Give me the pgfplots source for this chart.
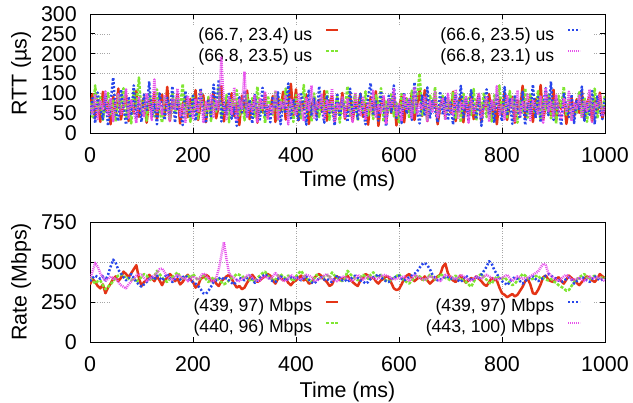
\documentclass[border=0pt]{standalone}
\usepackage{pgfplots}
\pgfplotsset{compat=1.18}
\usepackage{pgfplotstable}
\usepackage{fontspec}
\setmainfont{Liberation Sans}

\definecolor{cR}{RGB}{228,52,22}
\definecolor{cG}{RGB}{128,230,50}
\definecolor{cB}{RGB}{40,70,235}
\definecolor{cM}{RGB}{230,80,235}

\pgfplotstableread{
x r g b m
0 62 78 45 70
5 98 40 88 50
10 38 120 25 95
15 84 55 102 35
20 28 90 60 82
25 104 33 35 60
30 55 72 95 105
35 76 101 18 42
40 22 47 78 88
45 92 85 140 30
50 46 29 52 76
55 112 95 30 98
60 34 60 110 45
65 70 113 66 66
70 96 37 21 110
75 30 81 92 38
80 82 24 44 84
85 50 104 120 57
90 106 66 36 25
95 41 140 82 92
100 66 50 28 62
105 90 88 97 40
110 26 31 58 100
115 86 97 130 72
120 57 70 40 33
125 101 42 75 135
130 36 110 22 55
135 74 58 100 80
140 97 26 63 47
145 44 93 33 96
150 116 76 89 68
155 31 35 47 30
160 80 102 118 88
165 61 49 26 58
170 99 87 80 112
175 24 62 55 43
180 71 124 20 75
185 91 39 106 25
190 40 80 69 94
195 86 28 38 64
200 54 98 94 37
205 108 57 31 86
210 33 36 74 52
215 78 106 113 104
220 95 73 50 28
225 27 45 25 78
230 88 91 86 60
235 48 30 42 98
240 103 84 122 41
245 37 54 60 82
250 69 115 135 56
255 118 41 29 190
260 29 69 77 70
265 83 96 48 35
270 58 27 99 92
275 100 83 36 48
280 42 61 66 115
285 77 108 18 30
290 20 44 90 84
295 94 77 52 62
300 49 32 107 155
305 107 99 39 40
310 35 64 83 76
315 73 88 24 54
320 92 38 96 96
325 26 117 57 26
330 85 52 34 88
335 52 79 114 60
340 98 25 45 105
345 39 94 71 36
350 64 71 27 72
355 93 46 92 50
360 28 103 61 108
365 89 34 103 32
370 56 86 22 80
375 104 59 79 63
380 34 112 49 95
385 72 43 125 22
390 124 75 37 86
395 45 28 85 58
400 110 96 56 44
405 32 63 30 100
410 79 37 98 66
415 60 121 68 30
420 97 50 21 90
425 23 82 110 55
430 68 29 43 120
435 89 100 87 38
440 42 67 33 78
445 84 40 118 61
450 53 89 62 97
455 106 55 26 34
460 31 109 95 83
465 76 33 51 52
470 94 78 76 112
475 28 47 19 27
480 87 92 101 74
485 47 26 41 60
490 101 85 84 93
495 36 60 58 40
500 67 118 28 85
505 96 39 112 58
510 30 74 47 28
515 81 97 73 102
520 59 31 35 66
525 99 87 99 45
530 41 53 59 92
535 75 105 22 33
540 21 44 91 79
545 91 80 126 57
550 48 35 44 106
555 105 95 80 38
560 18 66 31 70
565 71 113 106 51
570 90 28 65 95
575 25 83 17 24
580 84 58 94 87
585 51 101 53 62
590 97 42 120 110
595 19 76 38 42
600 63 24 70 76
605 92 98 25 30
610 27 63 102 98
615 87 86 49 57
620 55 37 88 84
625 103 107 33 36
630 33 51 128 116
635 70 90 57 48
640 111 150 24 72
645 43 45 97 60
650 108 80 43 93
655 30 30 115 28
660 78 97 36 80
665 62 60 81 54
670 95 116 60 104
675 22 41 27 40
680 67 73 105 68
685 88 94 46 88
690 40 33 90 33
695 82 87 32 99
700 52 56 77 58
705 104 104 21 46
710 30 38 98 110
715 74 79 54 35
720 93 27 119 77
725 27 99 39 62
730 86 65 85 94
735 46 88 29 26
740 100 45 108 85
745 35 111 63 50
750 68 32 35 70
755 97 84 93 102
760 29 59 18 38
765 80 102 74 64
770 58 40 110 90
775 98 76 48 28
780 40 29 82 82
785 76 95 26 56
790 22 68 100 118
795 89 120 57 44
800 47 48 30 73
805 102 86 116 35
810 33 35 44 96
815 72 106 87 60
820 91 62 23 86
825 26 90 96 30
830 83 26 61 108
835 53 81 36 45
840 119 54 104 78
845 38 113 20 58
850 65 39 78 100
855 94 97 50 32
860 28 70 122 84
865 86 44 38 66
870 57 108 91 48
875 121 31 27 92
880 34 85 68 26
885 71 58 113 114
890 96 100 45 55
895 44 37 130 80
900 109 79 33 40
905 31 24 89 97
910 77 94 55 62
915 61 63 19 34
920 94 117 101 88
925 23 46 64 52
930 69 88 40 104
935 90 33 97 30
940 41 75 25 76
945 85 52 84 60
950 51 103 58 94
955 105 41 117 37
960 32 90 31 82
965 75 28 74 56
970 93 84 46 110
975 29 61 106 28
980 88 112 22 74
985 49 36 92 64
990 102 78 60 98
995 37 57 35 45
1000 70 95 88 68
}\rtt

\pgfplotstableread{
x r g b m
0 360 400 380 395
5 395 385 400 440
10 375 365 415 495
15 350 380 405 470
20 335 385 395 430
25 360 355 410 405
30 305 330 385 380
35 340 345 420 395
40 365 360 470 410
45 395 380 515 395
50 410 400 495 400
55 380 415 450 375
60 400 425 430 355
65 440 405 405 345
70 425 410 385 335
75 405 395 395 360
80 430 385 425 380
85 455 400 400 395
90 480 375 375 415
95 400 390 360 425
100 350 405 345 420
105 375 425 360 400
110 385 415 375 380
115 420 395 395 390
120 400 385 405 405
125 380 410 390 415
130 410 445 415 430
135 385 425 400 455
140 355 405 385 460
145 390 385 405 435
150 400 375 425 410
155 425 395 400 395
160 410 405 375 385
165 380 420 395 405
170 395 435 410 420
175 360 410 390 410
180 375 390 405 395
185 405 405 415 400
190 420 415 400 380
195 390 400 385 395
200 375 425 375 410
205 340 405 365 400
210 355 385 350 390
215 395 400 330 410
220 405 415 305 430
225 420 395 300 415
230 410 375 320 400
235 380 390 345 385
240 395 405 375 380
245 365 385 385 400
250 350 395 395 455
255 380 375 405 540
260 395 360 390 625
265 410 370 400 520
270 420 385 385 430
275 395 400 370 410
280 365 410 360 400
285 340 425 385 385
290 350 420 400 380
295 330 405 395 395
300 340 410 385 400
305 370 400 400 415
310 395 385 415 420
315 420 395 395 400
320 400 375 370 390
325 375 400 385 380
330 385 415 400 385
335 400 430 410 405
340 410 440 425 410
345 425 415 410 400
350 415 400 390 395
355 385 385 380 410
360 365 390 375 430
365 395 410 395 415
370 405 425 410 395
375 385 405 400 385
380 395 400 385 380
385 370 415 395 400
390 355 395 405 420
395 375 380 395 405
400 385 410 410 400
405 400 430 395 395
410 415 445 385 390
415 385 420 400 410
420 395 400 410 420
425 365 385 390 415
430 370 375 375 405
435 400 395 365 385
440 415 420 380 380
445 425 405 400 395
450 410 395 405 400
455 390 410 390 415
460 375 420 395 425
465 350 400 380 405
470 360 435 375 390
475 395 415 395 385
480 410 400 415 380
485 385 390 400 395
490 395 380 385 410
495 400 395 390 405
500 415 445 375 400
505 390 425 390 390
510 375 410 405 380
515 360 395 415 400
520 350 385 400 420
525 385 405 385 405
530 400 420 380 390
535 425 410 365 400
540 415 395 375 410
545 395 420 395 405
550 405 435 405 400
555 380 415 410 395
560 365 405 425 395
565 385 420 405 410
570 395 395 390 420
575 410 385 380 415
580 405 375 375 410
585 370 390 395 400
590 335 400 400 390
595 325 410 410 395
600 330 425 415 400
605 360 400 395 405
610 395 385 385 410
615 415 375 395 395
620 425 365 405 380
625 400 385 415 400
630 380 405 425 420
635 395 415 440 410
640 405 410 465 400
645 390 395 485 395
650 410 380 495 390
655 385 400 480 400
660 365 420 455 410
665 380 405 420 405
670 395 390 400 400
675 410 400 385 390
680 420 425 390 380
685 470 415 400 400
690 490 400 410 420
695 430 395 405 415
700 400 385 400 410
705 385 405 390 400
710 375 415 395 390
715 395 395 385 405
720 415 400 375 420
725 390 380 395 410
730 370 375 415 400
735 385 360 400 390
740 400 345 385 380
745 390 375 395 395
750 410 405 405 410
755 395 415 395 400
760 380 425 420 395
765 360 400 445 410
770 350 390 470 420
775 375 370 505 410
780 400 365 490 400
785 390 390 450 395
790 385 410 425 390
795 340 400 400 395
800 305 395 380 400
805 295 405 370 410
810 280 385 355 420
815 290 370 375 400
820 300 355 395 380
825 285 365 405 395
830 295 385 395 410
835 320 405 380 405
840 345 425 365 395
845 380 415 380 400
850 395 400 395 400
855 360 390 400 410
860 305 395 410 420
865 300 410 395 430
870 325 415 380 440
875 360 395 390 465
880 405 400 400 490
885 415 390 415 480
890 390 385 425 430
895 380 395 415 415
900 375 380 405 400
905 395 370 395 390
910 405 355 385 380
915 380 345 375 395
920 365 335 380 410
925 390 320 395 420
930 415 325 405 405
935 400 350 390 390
940 385 375 365 390
945 370 390 380 395
950 355 405 395 400
955 375 415 405 390
960 395 425 400 380
965 410 400 385 395
970 400 390 375 410
975 385 405 395 400
980 375 415 410 395
985 395 400 400 405
990 425 390 385 400
995 410 405 390 390
1000 400 400 395 380
}\rate

\pgfplotsset{
  sR/.style={color=cR, line width=2.5bp, solid, line join=round},
  sG/.style={color=cG, line width=2.5bp, dash pattern=on 3bp off 1.5bp, line join=round},
  sB/.style={color=cB, line width=2.5bp, dash pattern=on 2bp off 2bp, line join=round},
  sM/.style={color=cM, line width=2.5bp, dash pattern=on 1bp off 1bp, line join=round},
  base/.style={scale only axis, width=515bp, xmin=0, xmax=1000,
    xtick={0,200,...,1000}, anchor=south west,
    /pgf/number format/set thousands separator={}},
  gridaxis/.style={base, grid=major,
    major grid style={gray!70, line width=0.5bp, dash pattern=on 0.8bp off 1.6bp},
    axis line style={draw=none}, xticklabels={}, yticklabels={},
    major tick length=0pt,
    legend columns=2, legend plot pos=right,
    legend image code/.code={\draw[##1, line width=2bp] (0bp,6bp) -- (12bp,6bp);},
    legend style={anchor=north west, draw=none, fill=white,
      inner xsep=13bp, inner ysep=1bp, column sep=13bp, row sep=5bp,
      nodes={inner sep=0pt, text height=12bp, text depth=4bp},
      font=\fontsize{17.7}{18}\selectfont}},
  dataaxis/.style={base,
    axis line style={black, line width=0.8bp},
    tick style={black, line width=0.8bp},
    tick align=inside, major tick length=5bp,
    ticklabel style={font=\fontsize{21.5}{22}\selectfont},
    label style={font=\fontsize{21.5}{22}\selectfont},
    /pgf/number format/assume math mode=true,
    xticklabel style={anchor=center, inner sep=0pt, yshift=-22bp},
    yticklabel style={anchor=east, inner sep=0pt, xshift=-13bp},
    xlabel={Time (ms)},
    ylabel style={at={(axis description cs:-0.134,0.5)}, anchor=center, rotate=0}},
}

\begin{document}
\begin{tikzpicture}
\useasboundingbox (0,0) rectangle (633bp,403bp);
% ---- top: RTT ----
\begin{axis}[gridaxis, at={(90bp,270bp)}, height=119bp, ymin=0, ymax=300,
  ytick={0,50,...,300},
  legend style={at={(axis description cs:0.0388,0.891)}}]
\addlegendimage{sR}\addlegendentry{\makebox[189bp][r]{(66.7, 23.4) us}}
\addlegendimage{sB}\addlegendentry{\makebox[202bp][r]{(66.6, 23.5) us}}
\addlegendimage{sG}\addlegendentry{\makebox[189bp][r]{(66.8, 23.5) us}}
\addlegendimage{sM}\addlegendentry{\makebox[202bp][r]{(66.8, 23.1) us}}
\end{axis}
\begin{axis}[dataaxis, at={(90bp,270bp)}, height=119bp, ymin=0, ymax=300,
  ytick={0,50,...,300}, ylabel={RTT (µs)},
  xlabel style={at={(axis description cs:0.5,-0.403)}, anchor=center}]
\addplot[sR] table[x=x,y=r] {\rtt};
\addplot[sG] table[x=x,y=g] {\rtt};
\addplot[sB] table[x=x,y=b] {\rtt};
\addplot[sM] table[x=x,y=m] {\rtt};
\end{axis}
% ---- bottom: Rate ----
\begin{axis}[gridaxis, at={(90bp,61bp)}, height=120bp, ymin=0, ymax=750,
  ytick={0,250,500,750},
  legend style={at={(axis description cs:0.0388,0.36)}}]
\addlegendimage{sR}\addlegendentry{\makebox[189bp][r]{(439, 97) Mbps}}
\addlegendimage{sB}\addlegendentry{\makebox[202bp][r]{(439, 97) Mbps}}
\addlegendimage{sG}\addlegendentry{\makebox[189bp][r]{(440, 96) Mbps}}
\addlegendimage{sM}\addlegendentry{\makebox[202bp][r]{(443, 100) Mbps}}
\end{axis}
\begin{axis}[dataaxis, at={(90bp,61bp)}, height=120bp, ymin=0, ymax=750,
  ytick={0,250,500,750}, ylabel={Rate (Mbps)},
  xlabel style={at={(axis description cs:0.5,-0.417)}, anchor=center}]
\addplot[sR] table[x=x,y=r] {\rate};
\addplot[sG] table[x=x,y=g] {\rate};
\addplot[sB] table[x=x,y=b] {\rate};
\addplot[sM] table[x=x,y=m] {\rate};
\end{axis}
\end{tikzpicture}
\end{document}
